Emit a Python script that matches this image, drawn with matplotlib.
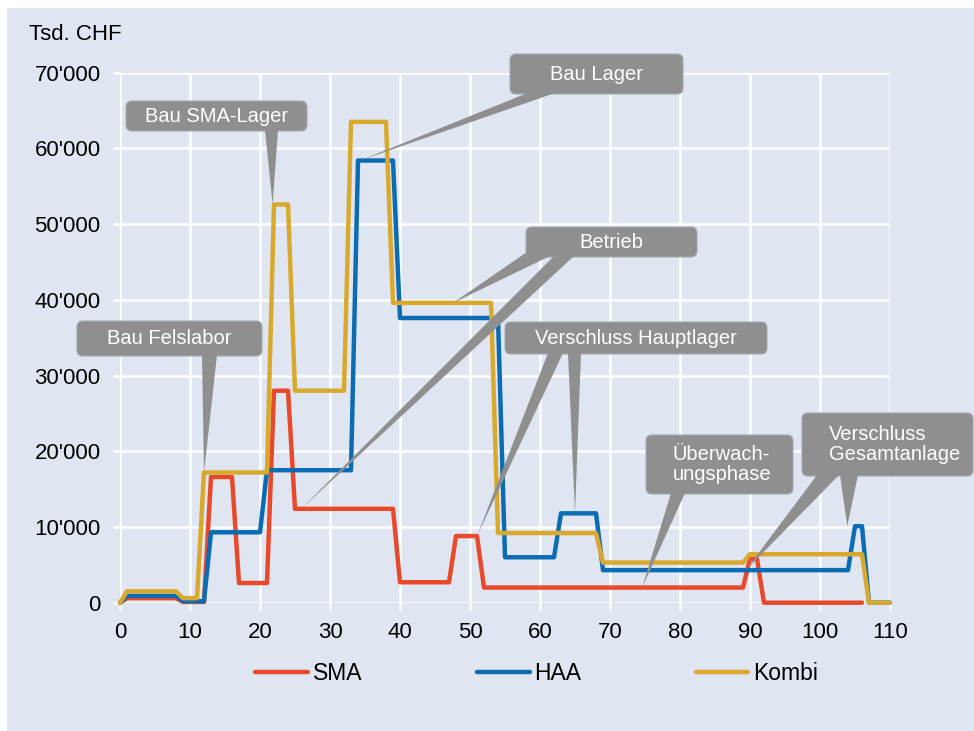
import numpy as np
import matplotlib
matplotlib.use("Agg")
import matplotlib.pyplot as plt
import matplotlib.transforms as mtransforms
from matplotlib.patches import FancyBboxPatch, Polygon, Rectangle
from matplotlib.ticker import FuncFormatter, MultipleLocator

plt.rcParams['font.family'] = ['Liberation Sans', 'DejaVu Sans']

# corner points of the cost curves (year, Tsd. CHF)
sma_x = [0, 1, 8, 9, 12, 13, 16, 17, 21, 22, 24, 25, 39, 40, 47, 48, 51, 52, 89, 90, 91, 92, 106]
sma_y = [0, 600, 600, 100, 100, 16600, 16600, 2600, 2600, 28000, 28000, 12400, 12400,
         2700, 2700, 8800, 8800, 2000, 2000, 5800, 5800, 0, 0]

haa_x = [0, 1, 8, 9, 12, 13, 20, 21, 33, 34, 39, 40, 54, 55, 62, 63, 68, 69, 104, 105, 106, 107, 110]
haa_y = [0, 900, 900, 200, 200, 9300, 9300, 17500, 17500, 58400, 58400, 37600, 37600,
         6000, 6000, 11800, 11800, 4300, 4300, 10100, 10100, 0, 0]

kombi_x = [0, 1, 8, 9, 11, 12, 21, 22, 24, 25, 32, 33, 38, 39, 53, 54, 68, 69, 89, 90, 106, 107, 110]
kombi_y = [0, 1500, 1500, 600, 600, 17200, 17200, 52600, 52600, 28000, 28000, 63500, 63500,
           39600, 39600, 9200, 9200, 5300, 5300, 6400, 6400, 0, 0]

series = {
    'SMA': (sma_x, sma_y, '#e8492a'),
    'HAA': (haa_x, haa_y, '#0b6bb3'),
    'Kombi': (kombi_x, kombi_y, '#d8a92c'),
}

x_ticks = list(range(0, 111, 10))
y_ticks = list(range(0, 70001, 10000))

# callouts: text, box (left, top, right, bottom in px), alignment
callouts = [
    ("Bau SMA-Lager", (126, 101, 307, 131), 'center'),
    ("Bau Lager", (510, 54, 683, 94), 'center'),
    ("Betrieb", (526, 227, 697, 257), 'center'),
    ("Bau Felslabor", (77, 321, 262, 356), 'center'),
    ("Verschluss Hauptlager", (505, 322, 767, 354), 'center'),
    ("Überwach-\nungsphase", (646, 435, 793, 494), 'left'),
    ("Verschluss\nGesamtanlage", (802, 413, 973, 476), 'left'),
]
# pointer wedges: base corners (px), tip x (year), series the tip sits on, year of that value
pointers = [
    ((265, 130), (278, 130), 21.8, 'Kombi', 22),
    ((530, 92), (555, 93), 34.3, 'HAA', 34),
    ((527, 252), (550, 256), 47.6, 'Kombi', 48),
    ((554, 256), (574, 256), 25.9, 'SMA', 26),
    ((202, 355), (217, 355), 12.0, 'Kombi', 12),
    ((548, 353), (563, 353), 51.0, 'SMA', 51),
    ((568, 353), (581, 353), 65.0, 'HAA', 65),
    ((671, 493), (685, 493), 74.6, 'SMA', 75),
    ((817, 475), (839, 475), 89.4, 'HAA', 89),
    ((840, 475), (858, 475), 103.9, 'HAA', 105),
]

bg = '#dfe6f1'
grey = '#8f8f8f'

W, H = 974, 731
fig = plt.figure(figsize=(W / 100, H / 100), dpi=100, facecolor='white')
pix = mtransforms.Affine2D().scale(1 / 100, -1 / 100).translate(0, H / 100) + fig.dpi_scale_trans

fig.add_artist(Rectangle((7, 8), W - 7, H - 8, transform=pix, facecolor=bg,
                         edgecolor='none', zorder=-5))

ax = fig.add_axes([120 / W, 1 - 602.7 / H, 770 / W, 530 / H])
ax.set_facecolor('none')
ax.set_xlim(0, 110)
ax.set_ylim(0, 70000)

for i, (name, (xs, ys, col)) in enumerate(series.items()):
    ax.plot(xs, ys, color=col, lw=3.2, label=name, clip_on=False, zorder=3 + i,
            solid_joinstyle='round', solid_capstyle='round')

ax.set_xticks(x_ticks)
ax.set_yticks(y_ticks)
ax.yaxis.set_major_formatter(FuncFormatter(lambda v, p: f"{int(v):,}".replace(",", "'")))
ax.grid(True, color='white', lw=1.8)
ax.set_axisbelow(True)
for s in ax.spines.values():
    s.set_visible(False)
ax.tick_params(axis='both', colors='white', length=5, width=1.8, labelcolor='black', labelsize=16)
ax.tick_params(axis='y', pad=9)
ax.tick_params(axis='x', pad=9)

fig.text(29, 35, "Tsd. CHF", transform=pix, fontsize=16, va='center', ha='left')

# callout boxes and pointers
for text, (l, t, r, b), align in callouts:
    box = FancyBboxPatch((l, t), r - l, b - t, boxstyle="round,pad=0,rounding_size=6",
                         transform=pix, facecolor=grey, edgecolor='#a5a9ae', lw=0.8, zorder=10)
    fig.add_artist(box)
    if align == 'center':
        fig.text((l + r) / 2, (t + b) / 2, text, transform=pix, color='white', fontsize=14.5,
                 ha='center', va='center', zorder=12)
    else:
        fig.text(l + 27, (t + b) / 2, text, transform=pix, color='white', fontsize=14.5,
                 ha='left', va='center', linespacing=1.1, zorder=12)

for p1, p2, tx, name, yr in pointers:
    xs, ys, _ = series[name]
    ty = np.interp(yr, xs, ys)
    dx, dy = ax.transData.transform((tx, ty))
    tip = (dx, H - dy)
    fig.add_artist(Polygon([p1, p2, tip], closed=True, transform=pix, facecolor=grey,
                           edgecolor='none', zorder=11))

fig.legend(loc='center', bbox_to_anchor=(0.551, 1 - 674 / H), ncol=3, frameon=False,
           handlelength=2.3, handletextpad=0.2, columnspacing=5.0, fontsize=16.5)

fig.savefig("out.png", dpi=100, facecolor='white')
